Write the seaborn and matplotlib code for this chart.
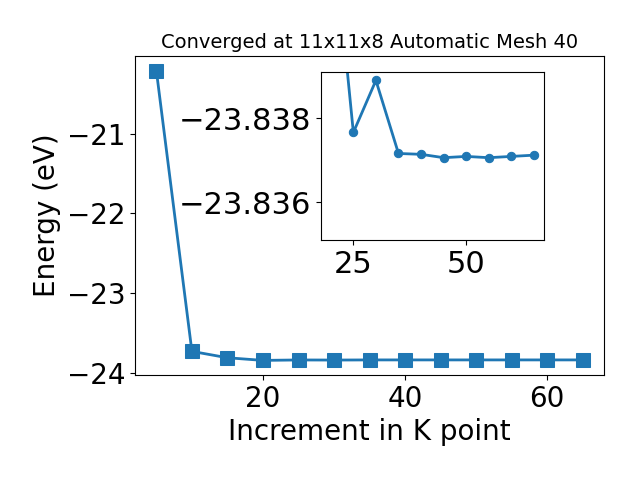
import matplotlib
matplotlib.use('Agg')
import matplotlib.pyplot as plt
import seaborn as sns
import pandas as pd

# K point increments and total energies
kpoints = [5, 10, 15, 20, 25, 30, 35, 40, 45, 50, 55, 60, 65]
energy = [-20.21, -23.73, -23.81, -23.8431, -23.83766, -23.8389, -23.83716,
          -23.83714, -23.83706, -23.83709, -23.83706, -23.83709, -23.83712]

# zoomed part shown in the inset
inset_k = kpoints[3:]
inset_e = energy[3:]

df = pd.DataFrame({'k': kpoints, 'E': energy})
df_in = pd.DataFrame({'k': inset_k, 'E': inset_e})

fig = plt.figure(figsize=(6.4, 4.8), dpi=100)
ax = fig.add_axes([0.211, 0.219, 0.733, 0.664])
sns.lineplot(data=df, x='k', y='E', ax=ax, marker='s', markersize=10,
             color='C0', linewidth=2, markeredgecolor='C0')
ax.set_xlabel('Increment in K point', fontsize=20)
ax.set_ylabel('Energy (eV)', fontsize=20)
ax.set_title('Converged at 11x11x8 Automatic Mesh 40', fontsize=14)
ax.set_yticks([-21, -22, -23, -24])
ax.set_xticks([20, 40, 60])
ax.tick_params(labelsize=20)

# inset
axin = fig.add_axes([0.501, 0.5, 0.349, 0.35])
sns.lineplot(data=df_in, x='k', y='E', ax=axin, marker='o', markersize=6,
             color='C0', linewidth=2, markeredgecolor='C0')
axin.set_ylim(-23.8351, -23.8391)
axin.set_yticks([-23.838, -23.836])
axin.ticklabel_format(axis='y', useOffset=False)
axin.set_xticks([25, 50])
axin.set_xlabel('')
axin.set_ylabel('')
axin.tick_params(labelsize=22)

fig.savefig('out.png')
